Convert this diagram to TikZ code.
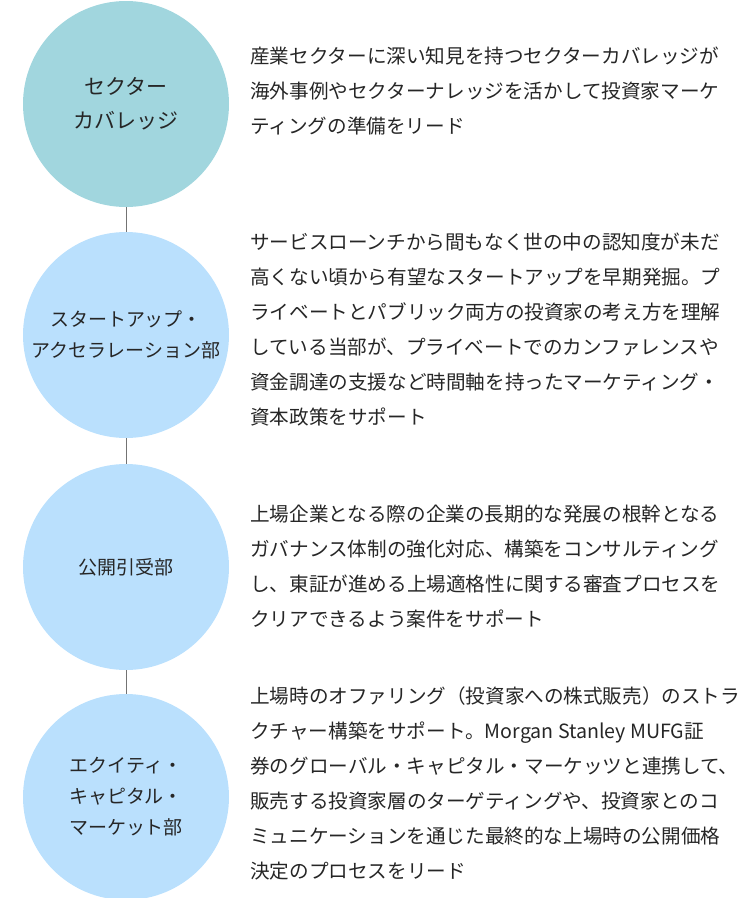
\documentclass[tikz,border=0pt]{standalone}
\usepackage{fontspec}
\setmainfont{Noto Sans CJK JP}
\begin{document}
\begin{tikzpicture}[x=1pt,y=-1pt,
 circ/.style={circle,minimum size=206pt,inner sep=0pt,align=center,font=\fontsize{19}{31}\selectfont,text=black!85},
 desc/.style={anchor=north west,align=left,inner sep=0pt,font=\fontsize{19.6}{35}\selectfont,text=black!85},
 conn/.style={draw=black!55,line width=0.8pt}]
\useasboundingbox (0,0) rectangle (750,898);
\node[circ,fill={rgb,255:red,161;green,214;blue,222},font=\fontsize{21}{34}\selectfont] (c1) at (126,104) {セクター\\カバレッジ};
\node[circ,fill={rgb,255:red,186;green,224;blue,253}] (c2) at (126,335) {スタートアップ・\\アクセラレーション部};
\node[circ,fill={rgb,255:red,186;green,224;blue,253}] (c3) at (126,567) {公開引受部};
\node[circ,fill={rgb,255:red,186;green,224;blue,253}] (c4) at (126,797) {エクイティ・\\キャピタル・\\マーケット部};
\draw[conn] (c1.south) -- (c2.north);
\draw[conn] (c2.south) -- (c3.north);
\draw[conn] (c3.south) -- (c4.north);
\node[desc] (t1) at (250,47) {産業セクターに深い知見を持つセクターカバレッジが\\海外事例やセクターナレッジを活かして投資家マーケ\\ティングの準備をリード};
\node[desc] (t2) at (250,233) {サービスローンチから間もなく世の中の認知度が未だ\\高くない頃から有望なスタートアップを早期発掘。プ\\ライベートとパブリック両方の投資家の考え方を理解\\している当部が、プライベートでのカンファレンスや\\資金調達の支援など時間軸を持ったマーケティング・\\資本政策をサポート};
\node[desc] (t3) at (250,505) {上場企業となる際の企業の長期的な発展の根幹となる\\ガバナンス体制の強化対応、構築をコンサルティング\\し、東証が進める上場適格性に関する審査プロセスを\\クリアできるよう案件をサポート};
\node[desc] (t4) at (250,687) {上場時のオファリング（投資家への株式販売）のストラ\\クチャー構築をサポート。Morgan Stanley MUFG証\\券のグローバル・キャピタル・マーケッツと連携して、\\販売する投資家層のターゲティングや、投資家とのコ\\ミュニケーションを通じた最終的な上場時の公開価格\\決定のプロセスをリード};
\end{tikzpicture}
\end{document}
